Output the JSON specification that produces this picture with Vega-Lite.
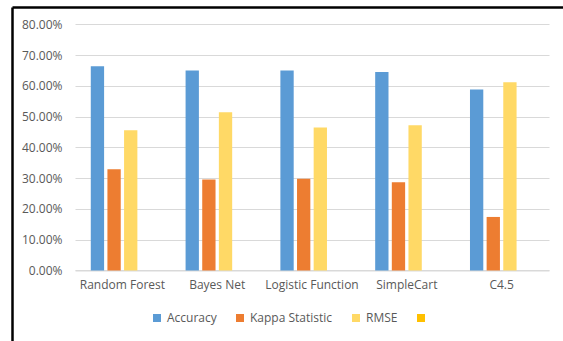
{
  "$schema": "https://vega.github.io/schema/vega-lite/v6.json",
  "width": 551,
  "height": 334,
  "autosize": {"type": "none"},
  "padding": {"left": 12, "top": 7, "right": 0, "bottom": 0},
  "background": "white",
  "config": {
    "view": {"stroke": null},
    "font": "Open Sans",
    "axis": {"labelFont": "Open Sans", "labelFontSize": 12, "labelColor": "#595959"},
    "legend": {"labelFont": "Open Sans", "labelFontSize": 12, "labelColor": "#595959"}
  },
  "data": {
    "values": [
      {"model": "Random Forest", "series": "Accuracy", "value": 0.664},
      {"model": "Random Forest", "series": "Kappa Statistic", "value": 0.329},
      {"model": "Random Forest", "series": "RMSE", "value": 0.456},
      {"model": "Bayes Net", "series": "Accuracy", "value": 0.650},
      {"model": "Bayes Net", "series": "Kappa Statistic", "value": 0.296},
      {"model": "Bayes Net", "series": "RMSE", "value": 0.514},
      {"model": "Logistic Function", "series": "Accuracy", "value": 0.650},
      {"model": "Logistic Function", "series": "Kappa Statistic", "value": 0.298},
      {"model": "Logistic Function", "series": "RMSE", "value": 0.465},
      {"model": "SimpleCart", "series": "Accuracy", "value": 0.645},
      {"model": "SimpleCart", "series": "Kappa Statistic", "value": 0.287},
      {"model": "SimpleCart", "series": "RMSE", "value": 0.472},
      {"model": "C4.5", "series": "Accuracy", "value": 0.588},
      {"model": "C4.5", "series": "Kappa Statistic", "value": 0.174},
      {"model": "C4.5", "series": "RMSE", "value": 0.612}
    ]
  },
  "layer": [
    {
      "mark": {"type": "bar"},
      "encoding": {
        "x": {
          "field": "model",
          "type": "nominal",
          "sort": null,
          "scale": {"range": [63, 537], "paddingInner": 0.333, "paddingOuter": 0.1665},
          "axis": {
            "orient": "bottom",
            "offset": -70.5,
            "title": null,
            "labelAngle": 0,
            "ticks": false,
            "domain": true,
            "domainColor": "#D9D9D9",
            "domainWidth": 1,
            "labelPadding": 9
          }
        },
        "xOffset": {
          "field": "series",
          "type": "nominal",
          "scale": {"domain": ["Accuracy", "Kappa Statistic", "RMSE", "Series4"], "paddingInner": 0.2, "paddingOuter": 0}
        },
        "y": {
          "field": "value",
          "type": "quantitative",
          "scale": {"domain": [-0.2291, 0.8562], "nice": false, "zero": false},
          "axis": {
            "orient": "left",
            "offset": -63,
            "title": null,
            "format": ".2%",
            "values": [0, 0.1, 0.2, 0.3, 0.4, 0.5, 0.6, 0.7, 0.8],
            "ticks": false,
            "domain": false,
            "grid": true,
            "gridColor": "#D9D9D9",
            "gridWidth": 1,
            "labelPadding": 13
          }
        },
        "color": {
          "field": "series",
          "type": "nominal",
          "scale": {
            "domain": ["Accuracy", "Kappa Statistic", "RMSE", "Series4"],
            "range": ["#5B9BD5", "#ED7D31", "#FFD966", "#FFC000"]
          },
          "legend": {
            "orient": "none",
            "legendX": 139,
            "legendY": 305,
            "direction": "horizontal",
            "title": null,
            "symbolType": "square",
            "symbolSize": 64,
            "symbolStrokeWidth": 0,
            "labelOffset": 4,
            "columnPadding": 17,
            "padding": 0,
            "labelExpr": "datum.label == 'Series4' ? '' : datum.label"
          }
        }
      }
    },
    {
      "mark": {"type": "point", "opacity": 0},
      "encoding": {
        "x": {
          "field": "value",
          "type": "quantitative",
          "axis": {"orient": "top", "labels": false, "ticks": false, "grid": false, "title": null, "domainColor": "black", "domainWidth": 2.5}
        },
        "y": {
          "field": "value",
          "type": "quantitative",
          "axis": {"orient": "left", "labels": false, "ticks": false, "grid": false, "title": null, "domainColor": "black", "domainWidth": 2.5}
        }
      }
    }
  ],
  "resolve": {"scale": {"x": "independent", "y": "independent"}, "axis": {"x": "independent", "y": "independent"}}
}
